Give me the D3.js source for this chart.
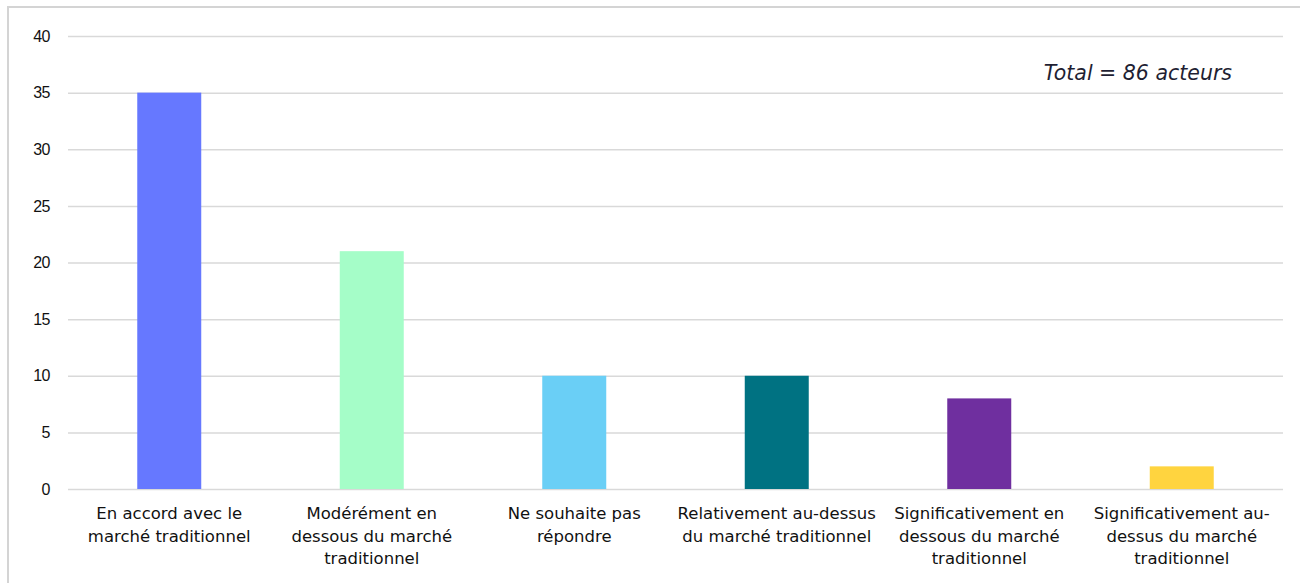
<!DOCTYPE html>
<html>
<head>
<meta charset="utf-8">
<script src="https://cdn.jsdelivr.net/npm/d3@7"></script>
<style>
  body { margin: 0; background: #fff; }
  svg { display: block; }
</style>
</head>
<body>
<script>
// data
var categories = [
  ["En accord avec le", "marché traditionnel"],
  ["Modérément en", "dessous du marché", "traditionnel"],
  ["Ne souhaite pas", "répondre"],
  ["Relativement au-dessus", "du marché traditionnel"],
  ["Significativement en", "dessous du marché", "traditionnel"],
  ["Significativement au-", "dessus du marché", "traditionnel"]
];
var values = [35, 21, 10, 10, 8, 2];
var colors = ["#6678ff", "#a5fdc8", "#6acff6", "#007282", "#6f2f9f", "#ffd43f"];
var yTicks = [0, 5, 10, 15, 20, 25, 30, 35, 40];
var totalLabel = "Total = 86 acteurs";

var w = 1300, h = 583;
var mLeft = 68, mRight = 1283, mTop = 36, mBottom = 489;

var svg = d3.select("body").append("svg")
    .attr("width", w)
    .attr("height", h);

// outer frame
svg.append("rect")
    .attr("x", 8).attr("y", 7)
    .attr("width", 1310).attr("height", 600)
    .attr("fill", "none")
    .attr("stroke", "#d4d4d4")
    .attr("stroke-width", 2);

var x = d3.scaleBand()
    .domain(d3.range(values.length))
    .range([mLeft, mRight])
    .paddingInner(0.684)
    .paddingOuter(0.342);

var y = d3.scaleLinear()
    .domain([0, 40])
    .range([mBottom, mTop]);

// grid
svg.append("g")
  .attr("transform", "translate(" + mLeft + ",0)")
  .call(d3.axisLeft(y).tickValues(yTicks).tickSize(-(mRight - mLeft)).tickFormat(""))
  .call(function(g) {
    g.select(".domain").remove();
    g.selectAll("line").attr("stroke", "#d9d9d9").attr("stroke-width", 1.5);
  });

// y labels
svg.append("g")
  .attr("transform", "translate(50,0)")
  .call(d3.axisLeft(y).tickValues(yTicks).tickSize(0).tickPadding(0))
  .call(function(g) {
    g.select(".domain").remove();
    g.selectAll("text")
      .attr("font-family", "Liberation Sans, Arial, sans-serif")
      .attr("font-size", "16px")
      .attr("letter-spacing", "-0.5px")
      .attr("fill", "#111");
  });

// bars
svg.selectAll("rect.bar")
  .data(values)
  .enter()
  .append("rect")
  .attr("class", "bar")
  .attr("x", function(d, i) { return x(i); })
  .attr("y", function(d) { return y(d); })
  .attr("width", x.bandwidth())
  .attr("height", function(d) { return y(0) - y(d); })
  .attr("fill", function(d, i) { return colors[i]; });

// category labels
var labels = svg.selectAll("text.cat")
  .data(categories)
  .enter()
  .append("text")
  .attr("class", "cat")
  .attr("text-anchor", "middle")
  .attr("font-family", "DejaVu Sans, sans-serif")
  .attr("font-size", "16.5px")
  .attr("fill", "#111");

labels.selectAll("tspan")
  .data(function(d, i) { return d.map(function(s) { return { s: s, i: i }; }); })
  .enter()
  .append("tspan")
  .attr("x", function(d) { return x(d.i) + x.bandwidth() / 2; })
  .attr("y", function(d, j) { return 519 + j * 22.5; })
  .text(function(d) { return d.s; });

// total
svg.append("text")
  .attr("x", 1232)
  .attr("y", 80)
  .attr("text-anchor", "end")
  .attr("font-family", "DejaVu Sans, sans-serif")
  .attr("font-style", "italic")
  .attr("font-size", "20.5px")
  .attr("fill", "#1f1f33")
  .text(totalLabel);
</script>
</body>
</html>
